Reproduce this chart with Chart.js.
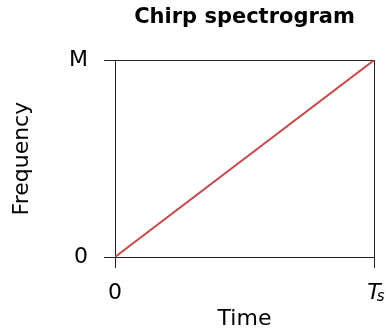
<!DOCTYPE html>
<html>
<head>
<meta charset="utf-8">
<script src="https://cdn.jsdelivr.net/npm/chart.js@4/dist/chart.umd.min.js"></script>
<style>
html,body{margin:0;padding:0;background:#fff;}
#wrap{width:386px;height:332px;position:relative;}
</style>
</head>
<body>
<div id="wrap"><canvas id="c" width="386" height="332"></canvas></div>
<script>
// Data
const timeValues = [0, 1];
const freqValues = [0, 1];
const xTickValues = [0, 1];
const xTickLabels = ['0', 'T_s'];   // "_s" drawn as subscript
const yTickValues = [0, 1];
const yTickLabels = ['0', 'M'];
const titleText = 'Chirp spectrogram';
const xTitle = 'Time';
const yTitle = 'Frequency';

const FONT = "'DejaVu Sans', sans-serif";
const TICK_SIZE = 22;
const points = timeValues.map((t, i) => ({x: t, y: freqValues[i]}));

function baseLabel(s) { return s.split('_')[0]; }

const subscriptPlugin = {
  id: 'subscript',
  afterDraw(chart) {
    const sc = chart.scales.x;
    const ctx = chart.ctx;
    sc.ticks.forEach((t) => {
      const lab = xTickLabels[xTickValues.indexOf(t.value)];
      if (!lab || lab.indexOf('_') < 0) return;
      const [base, sub] = lab.split('_');
      const x = sc.getPixelForValue(t.value);
      ctx.save();
      ctx.font = `italic ${TICK_SIZE}px ${FONT}`;
      const w = ctx.measureText(base).width;
      const yTop = sc.top + 11 + 12;
      ctx.font = `italic 15px ${FONT}`;
      ctx.fillStyle = '#000';
      ctx.textBaseline = 'alphabetic';
      ctx.textAlign = 'left';
      ctx.fillText(sub, x + w / 2 - 4, yTop + TICK_SIZE * 0.95);
      ctx.restore();
    });
  }
};

new Chart(document.getElementById('c'), {
  type: 'scatter',
  data: {
    datasets: [{
      data: points,
      showLine: true,
      borderColor: '#c64b4b',
      borderWidth: 2,
      pointRadius: 0,
      fill: false
    }]
  },
  options: {
    responsive: false,
    animation: false,
    layout: {padding: {left: 0, right: 12, top: 0, bottom: 0}},
    plugins: {
      legend: {display: false},
      tooltip: {enabled: false},
      title: {
        display: true,
        fullSize: false,
        text: titleText,
        color: '#000',
        font: {family: FONT, size: 21, weight: 'bold'},
        padding: {top: 5, bottom: 30}
      }
    },
    scales: {
      x: {
        type: 'linear',
        min: 0, max: 1,
        afterBuildTicks: s => { s.ticks = xTickValues.map(v => ({value: v})); },
        afterFit: s => { s.height = 75; s.paddingLeft = 0; s.paddingRight = 0; },
        ticks: {
          color: '#000',
          padding: 12,
          maxRotation: 0,
          autoSkip: false,
          font: ctx => ({family: FONT, size: TICK_SIZE, style: (ctx.index === 1 ? 'italic' : 'normal')}),
          callback: (v) => baseLabel(xTickLabels[xTickValues.indexOf(v)])
        },
        grid: {color: '#222', lineWidth: 1, tickLength: 11, drawTicks: true},
        border: {display: true, color: '#222', width: 1},
        title: {display: true, text: xTitle, color: '#000', font: {family: FONT, size: 22}, padding: {top: 2, bottom: 0}}
      },
      y: {
        type: 'linear',
        min: 0, max: 1,
        afterBuildTicks: s => { s.ticks = yTickValues.map(v => ({value: v})); },
        afterFit: s => { s.width = 115; s.paddingTop = 0; s.paddingBottom = 0; },
        ticks: {
          color: '#000',
          padding: 16,
          autoSkip: false,
          font: {family: FONT, size: TICK_SIZE},
          callback: (v) => yTickLabels[yTickValues.indexOf(v)]
        },
        grid: {color: '#222', lineWidth: 1, tickLength: 11, drawTicks: true},
        border: {display: true, color: '#222', width: 1},
        title: {display: true, text: yTitle, color: '#000', font: {family: FONT, size: 22}, padding: {top: 9, bottom: 0}}
      }
    }
  },
  plugins: [subscriptPlugin]
});
</script>
</body>
</html>
